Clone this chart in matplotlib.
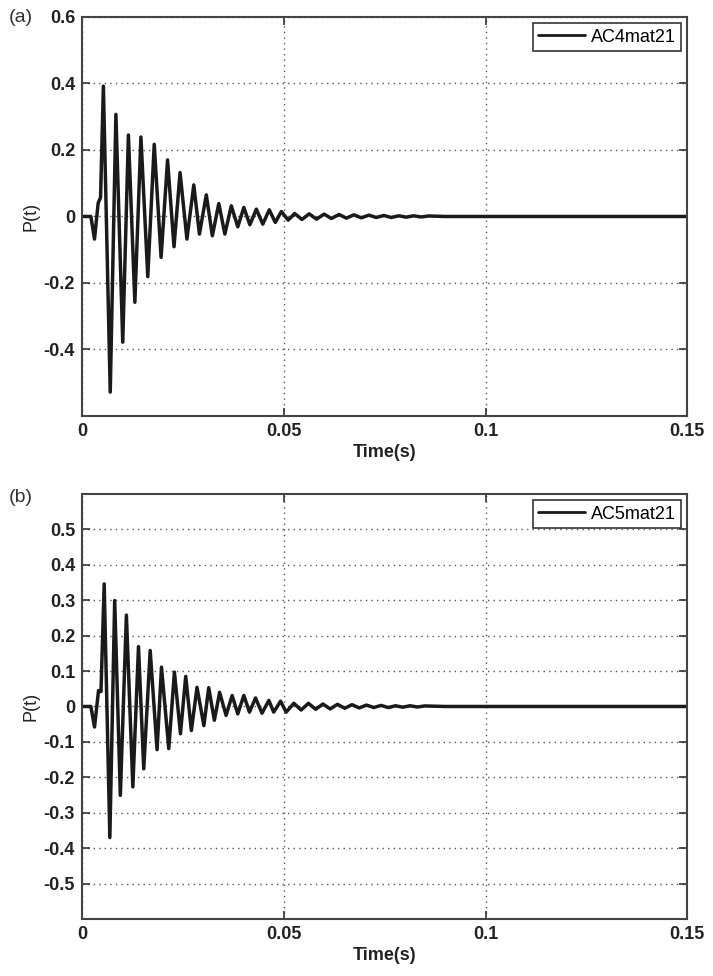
import matplotlib
matplotlib.use('Agg')
import matplotlib.pyplot as plt

# ---- data (extrema of the decaying pulse) ----
t_a = [0.0, 0.0022, 0.0031, 0.0040, 0.0046, 0.0053, 0.0070, 0.0084, 0.0101, 0.0115,
       0.0131, 0.0146, 0.0163, 0.0179, 0.0196, 0.0212, 0.0228, 0.0243, 0.0260, 0.0277,
       0.0291, 0.0308, 0.0323, 0.0339, 0.0354, 0.0370, 0.0386, 0.0401, 0.0416, 0.0432,
       0.0448, 0.0464, 0.0479, 0.0494, 0.0511, 0.0527, 0.0545, 0.0563, 0.0581, 0.0600,
       0.0618, 0.0637, 0.0655, 0.0674, 0.0692, 0.0711, 0.0729, 0.0748, 0.0766, 0.0785,
       0.0803, 0.0822, 0.0840, 0.0859, 0.0900, 0.1500]
p_a = [0.0, 0.0, -0.068, 0.040, 0.057, 0.392, -0.528, 0.307, -0.378, 0.245,
       -0.258, 0.239, -0.181, 0.217, -0.123, 0.170, -0.091, 0.132, -0.068, 0.095,
       -0.053, 0.065, -0.058, 0.039, -0.053, 0.032, -0.031, 0.027, -0.025, 0.022,
       -0.023, 0.020, -0.018, 0.015, -0.011, 0.009, -0.009, 0.008, -0.008, 0.007,
       -0.006, 0.006, -0.005, 0.005, -0.004, 0.004, -0.003, 0.003, -0.003, 0.002,
       -0.002, 0.002, -0.0015, 0.0015, 0.0, 0.0]

t_b = [0.0, 0.0022, 0.0031, 0.0041, 0.0047, 0.0055, 0.0069, 0.0081, 0.0095, 0.0110,
       0.0126, 0.0140, 0.0153, 0.0169, 0.0186, 0.0197, 0.0215, 0.0229, 0.0244, 0.0257,
       0.0271, 0.0285, 0.0302, 0.0314, 0.0328, 0.0341, 0.0357, 0.0372, 0.0386, 0.0401,
       0.0415, 0.0430, 0.0446, 0.0463, 0.0475, 0.0492, 0.0506, 0.0525, 0.0543, 0.0561,
       0.0579, 0.0597, 0.0615, 0.0633, 0.0651, 0.0669, 0.0687, 0.0705, 0.0723, 0.0741,
       0.0759, 0.0777, 0.0795, 0.0813, 0.0831, 0.0849, 0.0900, 0.1500]
p_b = [0.0, 0.0, -0.058, 0.045, 0.042, 0.346, -0.370, 0.299, -0.251, 0.258,
       -0.227, 0.169, -0.176, 0.158, -0.122, 0.111, -0.119, 0.097, -0.077, 0.085,
       -0.068, 0.054, -0.054, 0.053, -0.039, 0.040, -0.025, 0.031, -0.021, 0.031,
       -0.016, 0.024, -0.019, 0.017, -0.016, 0.015, -0.016, 0.009, -0.010, 0.009,
       -0.008, 0.007, -0.007, 0.006, -0.005, 0.005, -0.004, 0.004, -0.003, 0.003,
       -0.003, 0.002, -0.002, 0.002, -0.0015, 0.0015, 0.0, 0.0]

xticks = [0, 0.05, 0.1, 0.15]
xtick_labels = ['0', '0.05', '0.1', '0.15']
yticks_a = [-0.4, -0.2, 0, 0.2, 0.4, 0.6]
ytick_labels_a = ['-0.4', '-0.2', '0', '0.2', '0.4', '0.6']
yticks_b = [-0.5, -0.4, -0.3, -0.2, -0.1, 0, 0.1, 0.2, 0.3, 0.4, 0.5]
ytick_labels_b = ['-0.5', '-0.4', '-0.3', '-0.2', '-0.1', '0', '0.1', '0.2', '0.3', '0.4', '0.5']
labels = ['AC4mat21', 'AC5mat21']
panels = ['(a)', '(b)']

plt.rcParams['font.family'] = ['Liberation Sans', 'DejaVu Sans']

fig = plt.figure(figsize=(7.13, 9.76), dpi=100)
ax_a = fig.add_axes([0.115, 0.5738, 0.849, 0.4088])
ax_b = fig.add_axes([0.115, 0.0584, 0.849, 0.4355])

def style(ax, t, p, yticks, ylabels, label):
    ax.plot(t, p, color='#1a1a1a', lw=2.5, label=label,
            solid_joinstyle='round', solid_capstyle='round')
    ax.set_xlim(0, 0.15)
    ax.set_ylim(-0.6, 0.6)
    ax.set_xticks(xticks)
    ax.set_xticklabels(xtick_labels, fontsize=13, fontweight='bold')
    ax.set_yticks(yticks)
    ax.set_yticklabels(ylabels, fontsize=13, fontweight='bold')
    ax.tick_params(direction='in', length=6, width=1.2, top=True, right=True,
                   colors='#333333', pad=5)
    for tl in ax.get_xticklabels() + ax.get_yticklabels():
        tl.set_color('#222222')
    ax.grid(True, linestyle=(0, (1, 3)), color='#555555', lw=1.0)
    for s in ax.spines.values():
        s.set_linewidth(1.5)
        s.set_color('#444444')
    ax.set_xlabel('Time(s)', fontsize=13, fontweight='bold', color='#222222', labelpad=3)
    ax.set_ylabel('P(t)', fontsize=13, color='#222222', labelpad=3)
    leg = ax.legend(loc='upper right', fontsize=13, frameon=True, fancybox=False,
                    handlelength=2.6, borderaxespad=0.35, handletextpad=0.3,
                    borderpad=0.3)
    leg.get_frame().set_edgecolor('#333333')
    leg.get_frame().set_linewidth(1.2)
    leg.get_frame().set_alpha(1)
    for line in leg.get_lines():
        line.set_linewidth(2.0)

style(ax_a, t_a, p_a, yticks_a, ytick_labels_a, labels[0])
style(ax_b, t_b, p_b, yticks_b, ytick_labels_b, labels[1])

fig.text(0.012, 0.982, panels[0], fontsize=14, color='#333333', va='center')
fig.text(0.012, 0.490, panels[1], fontsize=14, color='#333333', va='center')

fig.savefig('out.png', dpi=100)
